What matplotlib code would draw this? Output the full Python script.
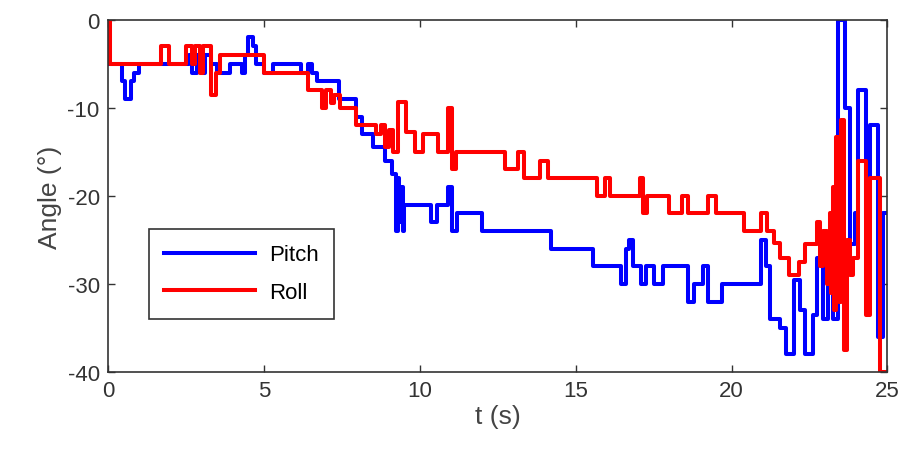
import matplotlib
matplotlib.use("Agg")
import matplotlib.pyplot as plt

# step breakpoints (t in s, angle in deg)
t_pitch = [0.0, 0.45, 0.55, 0.75, 0.85, 1.0, 2.6, 2.7, 2.85, 3.0, 3.1, 3.3, 3.5, 3.9,
           4.3, 4.4, 4.5, 4.65, 4.75, 5.0, 5.3, 6.2, 6.4, 6.55, 6.7, 7.4, 7.95, 8.15,
           8.5, 8.9, 9.1, 9.25, 9.3, 9.35, 9.4, 9.45, 9.5, 10.35, 10.55, 10.9, 11.05,
           11.2, 12.0, 14.2, 15.55, 16.45, 16.6, 16.7, 16.85, 17.1, 17.25, 17.5, 17.8,
           18.6, 18.8, 19.1, 19.25, 19.7, 20.95, 21.1, 21.25, 21.55, 21.75, 22.0, 22.2,
           22.35, 22.6, 22.75, 22.95, 23.1, 23.25, 23.4, 23.65, 23.8, 23.95, 24.05,
           24.3, 24.45, 24.7, 24.85, 25.0]
pitch = [-5, -7, -9, -7, -6, -5, -4, -6, -4, -6, -4, -5, -6, -5,
         -6, -4, -2, -3, -5, -6, -5, -6, -5, -6, -7, -9, -11, -13,
         -14.5, -16, -17.5, -24, -18, -23, -19, -24, -21, -23, -21, -19, -24,
         -22, -24, -26, -28, -30, -26, -25, -28, -30, -28, -30, -28,
         -32, -30, -28, -32, -30, -25, -28, -34, -35, -38, -29.5, -33,
         -38, -33.5, -27, -34, -28.5, -34, 0, -10, -25.5, -22, -8,
         -22.5, -12, -36, -22, -22]

t_roll = [0.0, 0.08, 1.7, 1.95, 2.5, 2.7, 2.8, 2.95, 3.05, 3.3, 3.45, 3.6, 5.0, 6.4,
          6.85, 7.0, 7.15, 7.25, 7.45, 7.95, 8.6, 8.75, 8.9, 9.0, 9.15, 9.3, 9.55,
          9.85, 10.1, 10.6, 10.9, 11.05, 11.15, 12.75, 13.15, 13.35, 13.85, 14.1,
          15.7, 15.95, 16.1, 17.05, 17.15, 17.3, 18.0, 18.4, 18.6, 19.25, 19.5, 20.4,
          20.95, 21.15, 21.35, 21.55, 21.85, 22.15, 22.35, 22.75, 22.85, 22.95, 23.05,
          23.15, 23.2, 23.25, 23.3, 23.35, 23.45, 23.5, 23.6, 23.7, 23.8, 23.9, 24.05,
          24.3, 24.45, 24.75, 25.0]
roll = [0, -5, -3, -5, -3, -5, -3, -6, -3, -8.5, -6, -4, -6, -8,
        -10, -8, -9.5, -8.5, -10, -12, -13, -12, -14.5, -12.5, -15, -9.3, -12.8,
        -15, -13, -15, -10, -17, -15, -17, -15, -18, -16, -18,
        -20, -18, -20, -18, -22, -20, -22, -20, -22, -20, -22, -24,
        -22, -24, -25.3, -27, -29, -27.5, -25.5, -23, -28, -24, -30,
        -22, -31, -19, -33, -13.3, -32, -11.4, -37.5, -25, -29, -27, -16,
        -33.5, -18, -40, -40]

plt.rcParams['font.family'] = ['Liberation Sans', 'DejaVu Sans']
plt.rcParams['axes.unicode_minus'] = False

fig = plt.figure(figsize=(9, 4.6), dpi=100)
ax = fig.add_axes([0.12, 0.189, 0.866, 0.766])

ax.plot(t_pitch, pitch, color='#0000ff', lw=2.9, drawstyle='steps-post', label='Pitch')
ax.plot(t_roll, roll, color='#ff0000', lw=2.9, drawstyle='steps-post', label='Roll')

ax.set_xlim(0, 25)
ax.set_ylim(-40, 0)
ax.set_xticks([0, 5, 10, 15, 20, 25])
ax.set_yticks([-40, -30, -20, -10, 0])
ax.tick_params(direction='in', top=True, right=True, length=5, width=1,
               labelsize=16, colors='#333333', pad=6)
for s in ax.spines.values():
    s.set_color('#333333')
    s.set_linewidth(1.2)

ax.set_xlabel('t (s)', fontsize=19, color='#444444', labelpad=2)
ax.set_ylabel('Angle (°)', fontsize=19, color='#444444', labelpad=4)

leg = ax.legend(loc='lower left', bbox_to_anchor=(0.038, 0.12), fontsize=16,
                handlelength=4.1, fancybox=False, framealpha=1,
                borderpad=0.7, labelspacing=0.75, handletextpad=0.6)
leg.get_frame().set_edgecolor('#333333')
leg.get_frame().set_linewidth(1.2)

fig.savefig('out.png', dpi=100)
